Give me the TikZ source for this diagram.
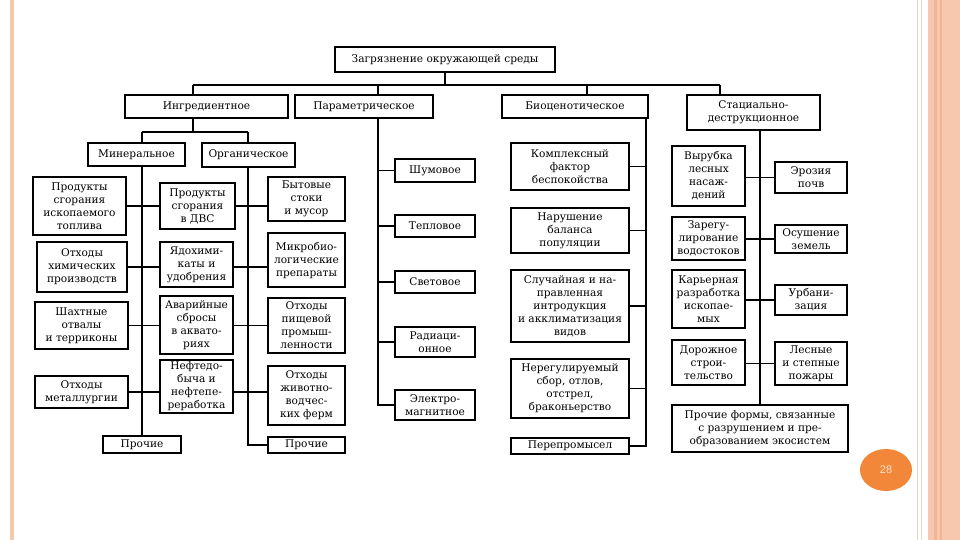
\documentclass[tikz,border=0pt]{standalone}
\usepackage{fontspec}
\setmainfont{DejaVu Serif}
\newfontfamily\boxfont{DejaVu Serif}
\newfontfamily\pnfont{Liberation Sans}
\usetikzlibrary{shapes.geometric}
\definecolor{salmon}{HTML}{F8C8AE}
\definecolor{salmondk}{HTML}{F2B496}
\definecolor{tanline}{HTML}{EAD3C4}
\definecolor{pnorange}{HTML}{F2873A}
\definecolor{pntext}{HTML}{FCE2CE}
\begin{document}
\begin{tikzpicture}[x=1pt,y=-1pt,
  box/.style={draw, line width=1.4pt, fill=white, align=center, inner sep=1pt,
    font=\boxfont\fontsize{10.6}{13}\selectfont},
  conn/.style={line width=1.3pt},
  pagenum/.style={ellipse, fill=pnorange, minimum width=52pt, minimum height=42pt,
    text=pntext, font=\pnfont\fontsize{11}{12}\selectfont}]
\useasboundingbox (0,0) rectangle (960,540);
\fill[white] (0,0) rectangle (960,540);
% page decoration
\fill[salmon] (10,0) rectangle (14,540);
\fill[salmon] (928,0) rectangle (960,540);
\fill[salmondk] (934,0) rectangle (936.5,540);
\fill[salmondk] (940,0) rectangle (942,540);
\draw[tanline, line width=0.8pt] (917,0) -- (917,540);
\draw[tanline, line width=0.8pt] (921,0) -- (921,540);
\node[pagenum] (pn) at (886,470) {28};

% level 0 and 1
\node[box, minimum width=220pt, minimum height=25pt] (title) at (445,59.5) {Загрязнение окружающей среды};
\node[box, minimum width=163pt, minimum height=23pt] (ingr) at (206.5,106.5) {Ингредиентное};
\node[box, minimum width=138pt, minimum height=23pt] (param) at (364,106.5) {Параметрическое};
\node[box, minimum width=146pt, minimum height=23pt] (bio) at (575,106.5) {Биоценотическое};
\node[box, minimum width=133pt, minimum height=35pt] (stat) at (753.5,112.5) {Стациально-\\деструкционное};

% ingredient sub
\node[box, minimum width=97pt, minimum height=23pt] (miner) at (136.5,154.5) {Минеральное};
\node[box, minimum width=93pt, minimum height=24pt] (organ) at (248.5,155) {Органическое};

% left column
\node[box, minimum width=93pt, minimum height=58pt] (L1) at (79.5,206) {Продукты\\сгорания\\ископаемого\\топлива};
\node[box, minimum width=90pt, minimum height=50pt] (L2) at (82,267) {Отходы\\химических\\производств};
\node[box, minimum width=93pt, minimum height=47pt] (L3) at (81.5,325.5) {Шахтные\\отвалы\\и терриконы};
\node[box, minimum width=93pt, minimum height=32pt] (L4) at (81.5,392) {Отходы\\металлургии};
\node[box, minimum width=78pt, minimum height=17pt] (minPr) at (142,444.5) {Прочие};

% middle column
\node[box, minimum width=75pt, minimum height=46pt] (M1) at (197.5,206) {Продукты\\сгорания\\в ДВС};
\node[box, minimum width=73pt, minimum height=45pt] (M2) at (196.5,264.5) {Ядохими-\\каты и\\удобрения};
\node[box, minimum width=73pt, minimum height=58pt] (M3) at (196.5,325) {Аварийные\\сбросы\\в аквато-\\риях};
\node[box, minimum width=73pt, minimum height=53pt] (M4) at (196.5,386.5) {Нефтедо-\\быча и\\нефтепе-\\реработка};

% organic column
\node[box, minimum width=77pt, minimum height=44pt] (R1) at (306.5,199) {Бытовые\\стоки\\и мусор};
\node[box, minimum width=77pt, minimum height=54pt] (R2) at (306.5,260) {Микробио-\\логические\\препараты};
\node[box, minimum width=77pt, minimum height=55pt] (R3) at (306.5,325.5) {Отходы\\пищевой\\промыш-\\ленности};
\node[box, minimum width=77pt, minimum height=59pt] (R4) at (306.5,395.5) {Отходы\\животно-\\водчес-\\ких ферм};
\node[box, minimum width=77pt, minimum height=16pt] (orgPr) at (306.5,445) {Прочие};

% parametric
\node[box, minimum width=80pt, minimum height=23pt] (P1) at (435,170.5) {Шумовое};
\node[box, minimum width=80pt, minimum height=22pt] (P2) at (435,226) {Тепловое};
\node[box, minimum width=80pt, minimum height=22pt] (P3) at (435,282) {Световое};
\node[box, minimum width=80pt, minimum height=30pt] (P4) at (435,342) {Радиаци-\\онное};
\node[box, minimum width=80pt, minimum height=30pt] (P5) at (435,405) {Электро-\\магнитное};

% biocenotic
\node[box, minimum width=118pt, minimum height=47pt] (B1) at (570,166.5) {Комплексный\\фактор\\беспокойства};
\node[box, minimum width=118pt, minimum height=45pt] (B2) at (570,230.5) {Нарушение\\баланса\\популяции};
\node[box, minimum width=118pt, minimum height=72pt] (B3) at (570,306) {Случайная и на-\\правленная\\интродукция\\и акклиматизация\\видов};
\node[box, minimum width=118pt, minimum height=59pt] (B4) at (570,388.5) {Нерегулируемый\\сбор, отлов,\\отстрел,\\браконьерство};
\node[box, minimum width=118pt, minimum height=16pt] (B5) at (570,446) {Перепромысел};

% stational
\node[box, minimum width=73pt, minimum height=60pt] (S1) at (708.5,176) {Вырубка\\лесных\\насаж-\\дений};
\node[box, minimum width=73pt, minimum height=43pt] (S2) at (708.5,238.5) {Зарегу-\\лирование\\водостоков};
\node[box, minimum width=73pt, minimum height=58pt] (S3) at (708.5,299) {Карьерная\\разработка\\ископае-\\мых};
\node[box, minimum width=73pt, minimum height=45pt] (S4) at (708.5,362.5) {Дорожное\\строи-\\тельство};
\node[box, minimum width=72pt, minimum height=31pt] (T1) at (811,177.5) {Эрозия\\почв};
\node[box, minimum width=72pt, minimum height=28pt] (T2) at (811,239) {Осушение\\земель};
\node[box, minimum width=72pt, minimum height=30pt] (T3) at (811,300) {Урбани-\\зация};
\node[box, minimum width=72pt, minimum height=43pt] (T4) at (811,363.5) {Лесные\\и степные\\пожары};
\node[box, minimum width=176pt, minimum height=47pt] (SP) at (760,428.5) {Прочие формы, связанные\\с разрушением и пре-\\образованием экосистем};

% junction coordinates
\coordinate (j0) at (445,85);
\coordinate (jA) at (193,85);
\coordinate (jB) at (378,85);
\coordinate (jC) at (587,85);
\coordinate (jD) at (720,85);
\coordinate (jI) at (193,132);
\coordinate (jM) at (142,132);
\coordinate (jO) at (248,132);
\coordinate (pS) at (378,118);
\coordinate (bS) at (646,118);
\coordinate (sS) at (760,130);

% top connectors
\draw[conn] (title) -- (j0);
\draw[conn] (jA) -- (jD);
\draw[conn] (jA) -- (jA |- ingr.north);
\draw[conn] (jB) -- (jB |- param.north);
\draw[conn] (jC) -- (jC |- bio.north);
\draw[conn] (jD) -- (jD |- stat.north);

% ingredient split
\draw[conn] (jI |- ingr.south) -- (jI);
\draw[conn] (jM) -- (jO);
\draw[conn] (jM) -- (jM |- miner.north);
\draw[conn] (jO) -- (jO |- organ.north);

% mineral spine
\draw[conn] (jM |- miner.south) -- (minPr.north);
% organic spine
\draw[conn] (jO |- organ.south) -- (jO |- orgPr.west) -- (orgPr.west);

% rows
\foreach \i in {1,2,3,4}{
  \draw[conn] (L\i.east) -- (L\i.east -| M\i.west);
  \draw[conn] (M\i.east |- L\i.east) -- (R\i.west |- L\i.east);
}

% parametric spine
\draw[conn] (pS) -- (pS |- P5.west) -- (P5.west);
\foreach \i in {1,2,3,4}{
  \draw[conn] (P\i.west) -- (P\i.west -| pS);
}

% biocenotic spine
\draw[conn] (bS) -- (bS |- B5.east) -- (B5.east);
\foreach \i in {1,2,3,4}{
  \draw[conn] (B\i.east) -- (B\i.east -| bS);
}

% stational spine
\draw[conn] (sS) -- (SP.north -| sS);
\foreach \i in {1,2,3,4}{
  \draw[conn] (S\i.east |- T\i.west) -- (T\i.west);
}
\end{tikzpicture}
\end{document}
